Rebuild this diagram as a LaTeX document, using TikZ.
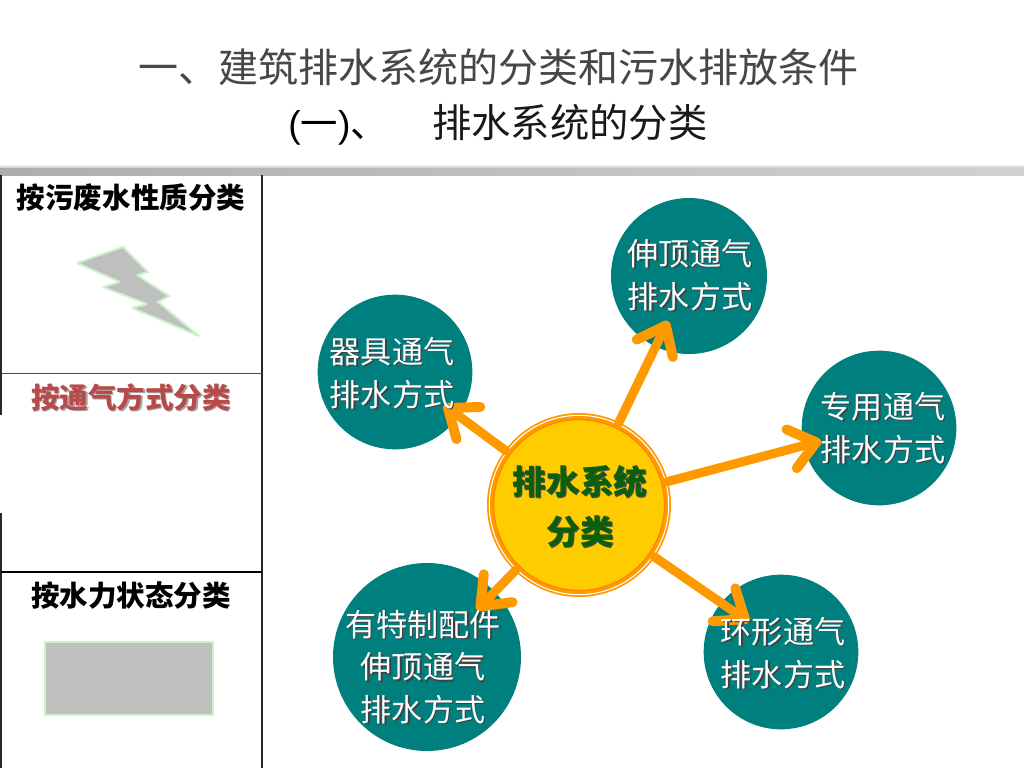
\documentclass[tikz,border=0pt]{standalone}
\usepackage{fontspec}
\setmainfont{Liberation Sans}
\newfontfamily\cjk{Noto Sans CJK SC}
\usetikzlibrary{arrows.meta,calc}
\definecolor{tealc}{HTML}{007F7F}
\definecolor{orangec}{HTML}{FF9900}
\definecolor{yellowc}{HTML}{FFCC00}
\definecolor{palegreen}{HTML}{CCF2CC}
\definecolor{shapegray}{HTML}{BFBFBF}
\definecolor{redc}{HTML}{B84A4A}
\definecolor{greenc}{HTML}{0B5E0B}
\newcommand{\shadowtext}[5]{% name, pos, colour, shadow colour, text
  \node[lbl,text=#4] at ($(#2)+(1.5,1.5)$) {#5};
  \node[lbl,text=#3] (#1) at (#2) {#5};
}
\tikzset{
  x=0.75pt,y=-0.75pt,
  lbl/.style={inner sep=0pt,align=center,font=\cjk\fontsize{23.3}{32}\selectfont},
  leaf/.style={circle,fill=tealc,inner sep=0pt},
  spoke/.style={draw=orangec,line width=6.8pt,line cap=round,
    -{Straight Barb[length=19pt,width=30pt,line width=7.5pt,round]},shorten <=-1pt},
  shapeb/.style={draw=palegreen,line width=1.5pt,fill=shapegray,miter limit=2},
  rule/.style={draw=black!85,line width=0.8pt},
  headl/.style={inner sep=0pt,font=\cjk\bfseries\fontsize{21.4}{24}\selectfont},
  hubt/.style={inner sep=0pt,align=center,font=\cjk\bfseries\fontsize{25.2}{37.5}\selectfont}
}
\begin{document}
\begin{tikzpicture}
\useasboundingbox (0,0) rectangle (1024,768);
\fill[white] (0,0) rectangle (1024,768);
% title
\node[inner sep=0pt,text=black!72,font=\cjk\fontsize{30}{34}\selectfont] (title) at (498.5,67) {一、建筑排水系统的分类和污水排放条件};
\node[inner sep=0pt,anchor=base west,font=\fontsize{28}{30}\selectfont] (subl) at (288,137) {(\cjk 一\rmfamily)\cjk 、};
\node[inner sep=0pt,anchor=base west,font=\cjk\fontsize{29.5}{30}\selectfont,text=black!90] (subr) at (432,137) {排水系统的分类};
% bar
\shade[left color=black!32,right color=black!18] (0,167) rectangle (1024,175);
\shade[top color=white,bottom color=black!18] (0,164) rectangle (1024,167);
% table
\draw[rule] (1,175) -- (1,415) (1,513) -- (1,768);
\draw[rule] (262,175) -- (262,768);
\draw[rule,draw=black!70] (1,373.5) -- (262,373.5);
\draw[draw=black,line width=1.1pt] (1,572) -- (262,572);
% table heads
\node[headl] (h1) at (131,198) {按污废水性质分类};
\node[headl,text=black!35] at (132.5,398.5) {按通气方式分类};
\node[headl,text=redc] (h2) at (131,397) {按通气方式分类};
\node[headl] (h3) at (131,596) {按水力状态分类};
% shapes
\draw[shapeb] (77,263) -- (123,247) -- (148,272) -- (137,275) -- (169,296) -- (158,302) -- (199,336) -- (132,308) -- (147,304) -- (103,287) -- (120,282) -- cycle;
\draw[shapeb] (45,642) rectangle (213,715);
% circles
\node[leaf,minimum size=117pt] (top) at (689,276) {};
\node[leaf,minimum size=116pt] (left) at (395,372) {};
\node[leaf,minimum size=116pt] (right) at (879,428) {};
\node[leaf,minimum size=141pt] (bl) at (427,657) {};
\node[leaf,minimum size=116pt] (br) at (781,652) {};
% hub
\node[circle,fill=orangec,minimum size=138pt,inner sep=0pt] (hub) at (579,505) {};
\node[circle,draw=white,line width=0.8pt,minimum size=134.5pt,inner sep=0pt] (hubring) at (579,505) {};
\node[circle,draw=orangec!85!red,line width=0.8pt,fill=yellowc,minimum size=128pt,inner sep=0pt] (hubin) at (579,505) {};
% free arrow ends
\coordinate (ttop) at (668,321);
\coordinate (tleft) at (444,405);
\coordinate (tright) at (821,441);
\coordinate (tbl) at (477,610);
\coordinate (tbr) at (749,622);
\draw[spoke] (hub) -- (ttop);
\draw[spoke] (hub) -- (tleft);
\draw[spoke] (hub) -- (tright);
\draw[spoke] (hub) -- (tbl);
\draw[spoke] (hub) -- (tbr);
% labels
\shadowtext{ltop}{690,275}{white}{black!75}{伸顶通气\\排水方式}
\shadowtext{lleft}{392,373}{white}{black!75}{器具通气\\排水方式}
\shadowtext{lright}{883,428}{white}{black!75}{专用通气\\排水方式}
\shadowtext{lbl2}{423,667}{white}{black!75}{有特制配件\\伸顶通气\\排水方式}
\shadowtext{lbr}{783,653}{white}{black!75}{环形通气\\排水方式}
\node[hubt,text=black!70] at (581,508) {排水系统\\分类};
\node[hubt,text=greenc] (lhub) at (580,507) {排水系统\\分类};
\end{tikzpicture}
\end{document}
